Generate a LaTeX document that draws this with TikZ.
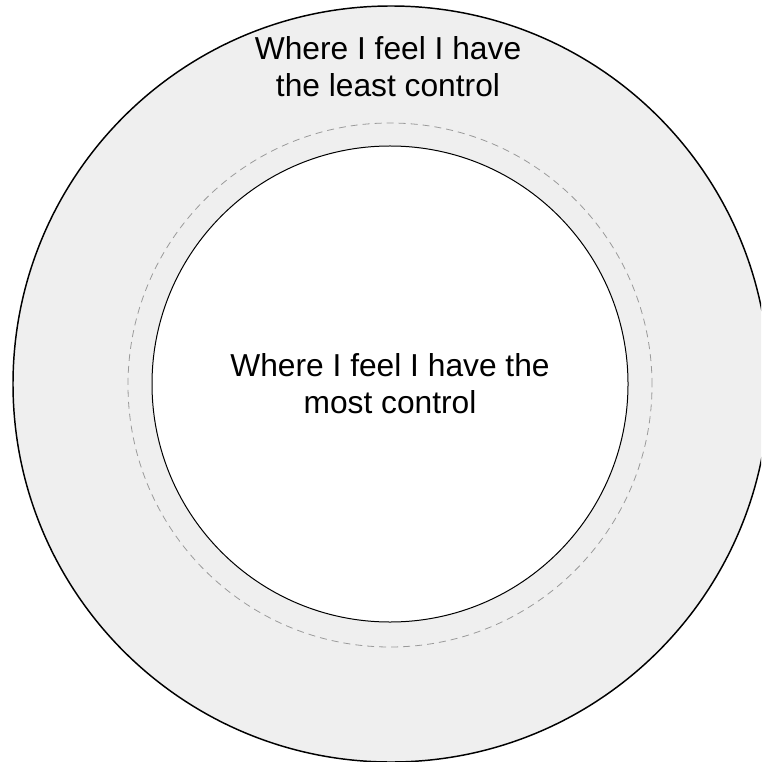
\documentclass[tikz,border=0pt]{standalone}
\usepackage{fontspec}
\setmainfont{Liberation Sans}
\usepackage{xcolor}
\usepackage{tikz}
\usetikzlibrary{positioning,shapes.geometric}
\definecolor{ZONEfill}{HTML}{EFEFEF}
\definecolor{ZONEdash}{HTML}{9A9A9A}
\definecolor{ZONEink}{HTML}{000000}
\tikzset{
  ringcircle/.style={circle, draw=ZONEink, fill=ZONEfill, line width=1.1pt, inner sep=0pt},
  dashcircle/.style={circle, draw=ZONEdash, dash pattern=on 5.25pt off 3.75pt, line width=0.6pt, inner sep=0pt},
  corecircle/.style={circle, draw=ZONEink, fill=white, line width=0.75pt, inner sep=0pt},
  zonelabel/.style={align=center, inner sep=0pt, text=ZONEink, font=\fontsize{23.8}{27.9}\selectfont}
}

\begin{document}
\begin{tikzpicture}[x=0.75pt, y=-0.75pt]
\useasboundingbox (0,0) rectangle (761,762);
\clip (0,0) rectangle (761,762);
% rings, outside in
\node[ringcircle, minimum size=567pt] (outer) at (391,384) {};
\node[dashcircle, minimum size=393pt] (dashring) at (390,385) {};
\node[corecircle, minimum size=357pt] (inner) at (390,384) {};
% labels
\node[zonelabel] (leastlbl) at (388,67) {Where I feel I have\\the least control};
\node[zonelabel] (mostlbl) at (390,384) {Where I feel I have the\\most control};
\end{tikzpicture}
\end{document}
